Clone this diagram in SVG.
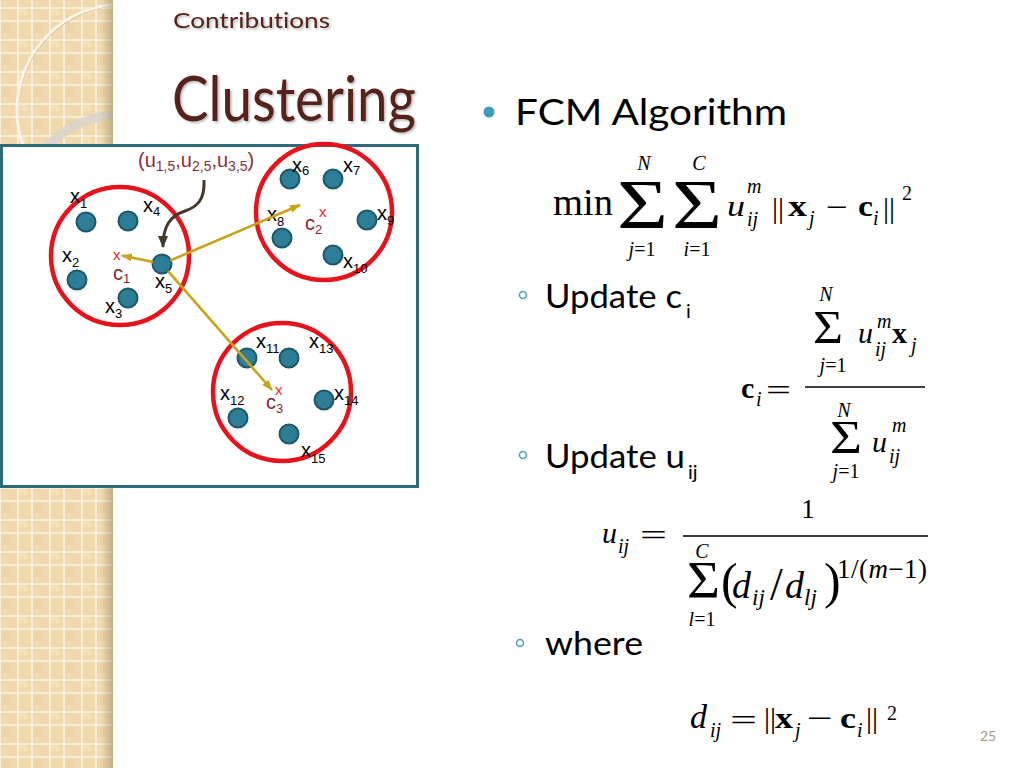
<svg xmlns="http://www.w3.org/2000/svg" width="1024" height="768" viewBox="0 0 1024 768">
<defs>
<pattern id="grid" x="14" y="4" width="32" height="32" patternUnits="userSpaceOnUse">
<rect width="32" height="32" fill="#efd9ad"/>
<rect x="5" y="5" width="8" height="6" fill="#f2dfb8"/>
<rect x="19" y="19" width="10" height="10" fill="#ecd5a6"/>
<path d="M4 0V32M18 0V32M0 4H32M0 17H32" stroke="#fcf4e3" stroke-width="1.6"/>
</pattern>
<linearGradient id="shade" x1="0" y1="0" x2="1" y2="0">
<stop offset="0" stop-color="#8a7450" stop-opacity="0"/>
<stop offset="1" stop-color="#8a7450" stop-opacity="0.45"/>
</linearGradient>
<clipPath id="stripClip"><rect x="0" y="0" width="113" height="768"/></clipPath>
<filter id="tshadow" x="-5%" y="-20%" width="110%" height="140%">
<feDropShadow dx="1.5" dy="1.5" stdDeviation="1" flood-color="#000" flood-opacity="0.3"/>
</filter>
<marker id="gold" markerWidth="11" markerHeight="8" refX="10" refY="4" orient="auto" markerUnits="userSpaceOnUse">
<path d="M0,0 L11,4 L0,8 z" fill="#c9a21a"/>
</marker>
<marker id="dark" markerWidth="12" markerHeight="10" refX="11" refY="5" orient="auto" markerUnits="userSpaceOnUse">
<path d="M0,0 L12,5 L0,10 z" fill="#45392b"/>
</marker>
<style>
.lbl{font-family:"Liberation Sans",Arial,sans-serif;font-size:20px;fill:#000}
.sub{font-size:13px}
.pt{fill:#2e7d96;stroke:#1c586a;stroke-width:2}
.ring{fill:none;stroke:#e5141c;stroke-width:4.5}
.cl{font-family:"Liberation Sans",Arial,sans-serif;font-size:20px;fill:#8b2232}
.xm{font-family:"Liberation Sans",Arial,sans-serif;font-size:15px;fill:#e52a2a}
.goldl{stroke:#c9a21a;stroke-width:2.6;fill:none}
.body{font-family:Lato,"Open Sans",sans-serif;fill:#000;font-variant-ligatures:none}
.m{font-family:"Liberation Serif","Times New Roman",serif;font-size:30px;fill:#000}
.mi{font-family:"Liberation Serif","Times New Roman",serif;font-size:30px;font-style:italic;fill:#000}
.mb{font-family:"Liberation Serif","Times New Roman",serif;font-size:30px;font-weight:bold;fill:#000}
.s{font-family:"Liberation Serif","Times New Roman",serif;font-size:20px;fill:#000}
.si{font-family:"Liberation Serif","Times New Roman",serif;font-size:20px;font-style:italic;fill:#000}
.hb{fill:none;stroke:#4a9fb5;stroke-width:1.5}
</style>
</defs>

<rect width="1024" height="768" fill="#ffffff"/>

<g id="strip">
<rect x="0" y="0" width="113" height="768" fill="url(#grid)"/>
<g clip-path="url(#stripClip)">
<circle cx="124" cy="111" r="106" fill="none" stroke="#c8b28a" stroke-width="1.2"/>
<circle cx="123" cy="110" r="106" fill="none" stroke="#fbf5e8" stroke-width="3"/>
<circle cx="120" cy="215" r="100" fill="none" stroke="#d8d4cc" stroke-width="9" opacity="0.85"/>
</g>
<rect x="101" y="0" width="12" height="768" fill="url(#shade)"/>
</g>

<g id="titles" filter="url(#tshadow)">
<text x="173" y="28" class="body" font-size="21" style="fill:#55241a" textLength="157" lengthAdjust="spacingAndGlyphs">Contributions</text>
<text x="172" y="121" class="body" font-size="62" style="fill:#55241a" textLength="244" lengthAdjust="spacingAndGlyphs">Clustering</text>
</g>

<g id="diagram-box">
<rect x="1.5" y="145.5" width="416" height="341" fill="#ffffff" stroke="#2d6b7c" stroke-width="3"/>
</g>

<g id="cluster1"><circle class="ring" cx="120" cy="256" r="69"/></g>
<g id="cluster2"><circle class="ring" cx="324" cy="212" r="68"/></g>
<g id="cluster3"><circle class="ring" cx="282" cy="392" r="69"/></g>

<g id="x1"><circle class="pt" cx="86" cy="222" r="9.5"/><text class="lbl" x="70" y="203">x<tspan class="sub" dy="5">1</tspan></text></g>
<g id="x4"><circle class="pt" cx="128" cy="221" r="9.5"/><text class="lbl" x="143" y="212">x<tspan class="sub" dy="4">4</tspan></text></g>
<g id="x2"><circle class="pt" cx="77" cy="280" r="9.5"/><text class="lbl" x="62" y="262">x<tspan class="sub" dy="5">2</tspan></text></g>
<g id="x3"><circle class="pt" cx="128" cy="298" r="9.5"/><text class="lbl" x="105" y="313">x<tspan class="sub" dy="5">3</tspan></text></g>
<g id="x5"><circle class="pt" cx="162" cy="264" r="9.5"/><text class="lbl" x="155" y="288">x<tspan class="sub" dy="5">5</tspan></text></g>
<g id="c1"><text class="xm" x="113" y="260">x</text><text class="cl" x="113" y="280">c<tspan class="sub" dy="3">1</tspan></text></g>

<g id="x6"><circle class="pt" cx="290" cy="179" r="9.5"/><text class="lbl" x="292" y="172">x<tspan class="sub" dy="3">6</tspan></text></g>
<g id="x7"><circle class="pt" cx="333" cy="179" r="9.5"/><text class="lbl" x="343" y="172">x<tspan class="sub" dy="3">7</tspan></text></g>
<g id="x8"><circle class="pt" cx="282" cy="238" r="9.5"/><text class="lbl" x="267" y="221">x<tspan class="sub" dy="5">8</tspan></text></g>
<g id="x9"><circle class="pt" cx="367" cy="220" r="9.5"/><text class="lbl" x="377" y="220">x<tspan class="sub" dy="5">9</tspan></text></g>
<g id="x10"><circle class="pt" cx="333" cy="255" r="9.5"/><text class="lbl" x="343" y="268">x<tspan class="sub" dy="5">10</tspan></text></g>
<g id="c2"><text class="xm" x="319" y="217">x</text><text class="cl" x="305" y="230">c<tspan class="sub" dy="4">2</tspan></text></g>

<g id="x11"><circle class="pt" cx="247" cy="358" r="9.5"/><text class="lbl" x="256" y="348">x<tspan class="sub" dy="5">11</tspan></text></g>
<g id="x13"><circle class="pt" cx="289" cy="358" r="9.5"/><text class="lbl" x="309" y="348">x<tspan class="sub" dy="5">13</tspan></text></g>
<g id="x12"><circle class="pt" cx="238" cy="418" r="9.5"/><text class="lbl" x="220" y="400">x<tspan class="sub" dy="5">12</tspan></text></g>
<g id="x14"><circle class="pt" cx="324" cy="400" r="9.5"/><text class="lbl" x="334" y="400">x<tspan class="sub" dy="5">14</tspan></text></g>
<g id="x15"><circle class="pt" cx="289" cy="434" r="9.5"/><text class="lbl" x="301" y="457">x<tspan class="sub" dy="6">15</tspan></text></g>
<g id="c3"><text class="xm" x="275" y="395">x</text><text class="cl" x="266" y="409">c<tspan class="sub" dy="4">3</tspan></text></g>

<g id="memberships">
<text x="138" y="167" font-family="'Liberation Sans',Arial,sans-serif" font-size="20" fill="#8b2e3c">(u<tspan font-size="14" dy="4">1,5</tspan><tspan dy="-4">,u</tspan><tspan font-size="14" dy="4">2,5</tspan><tspan dy="-4">,u</tspan><tspan font-size="14" dy="4">3,5</tspan><tspan dy="-4">)</tspan></text>
</g>

<g id="connectors">
<line class="goldl" x1="153.2" y1="262" x2="122" y2="255.5" marker-end="url(#gold)"/>
<line class="goldl" x1="170.3" y1="260.5" x2="300" y2="205" marker-end="url(#gold)"/>
<line class="goldl" x1="167.9" y1="270.8" x2="272" y2="390" marker-end="url(#gold)"/>
<path d="M204,180 C205,200 197,207 185,211 C170,216 163,226 163,247" fill="none" stroke="#45392b" stroke-width="3" marker-end="url(#dark)"/>
</g>

<g id="bullets">
<circle cx="489" cy="112" r="5.5" fill="#3e9dbb"/>
<text class="body" x="515" y="125" font-size="36" textLength="272" lengthAdjust="spacingAndGlyphs">FCM Algorithm</text>
<circle class="hb" cx="523" cy="295" r="3.5"/>
<text class="body" x="545" y="308" font-size="32" textLength="137" lengthAdjust="spacingAndGlyphs">Update c</text>
<text class="body" x="686" y="318" font-size="20">i</text>
<circle class="hb" cx="523" cy="455" r="3.5"/>
<text class="body" x="545" y="468" font-size="32" textLength="140" lengthAdjust="spacingAndGlyphs">Update u</text>
<text class="body" x="688" y="479" font-size="20">ij</text>
<circle class="hb" cx="520" cy="643" r="3.5"/>
<text class="body" x="545" y="655" font-size="32" textLength="98" lengthAdjust="spacingAndGlyphs">where</text>
</g>

<g id="formula-objective">
<text class="m" x="553" y="215" style="font-size:38px" textLength="60" lengthAdjust="spacingAndGlyphs">min</text>
<text class="m" x="617" y="228" style="font-size:69px" textLength="51" lengthAdjust="spacingAndGlyphs">Σ</text>
<text class="si" x="644" y="170" text-anchor="middle">N</text>
<text class="s" x="642" y="256" text-anchor="middle"><tspan font-style="italic">j</tspan>=1</text>
<text class="m" x="672" y="228" style="font-size:69px" textLength="50" lengthAdjust="spacingAndGlyphs">Σ</text>
<text class="si" x="699" y="170" text-anchor="middle">C</text>
<text class="s" x="697" y="256" text-anchor="middle"><tspan font-style="italic">i</tspan>=1</text>
<text class="mi" x="727" y="216" textLength="18" lengthAdjust="spacingAndGlyphs">u</text>
<text class="si" x="747" y="193">m</text>
<text class="si" x="747" y="226">ij</text>
<text class="m" x="772" y="218">||</text>
<text class="mb" x="788" y="216" textLength="19" lengthAdjust="spacingAndGlyphs">x</text>
<text class="si" x="809" y="225">j</text>
<text class="m" x="826" y="217" textLength="22" lengthAdjust="spacingAndGlyphs">−</text>
<text class="mb" x="858" y="216" textLength="15" lengthAdjust="spacingAndGlyphs">c</text>
<text class="si" x="873" y="225">i</text>
<text class="m" x="883" y="218">||</text>
<text class="s" x="902" y="200">2</text>
</g>

<g id="formula-center">
<text class="mb" x="741" y="398">c</text>
<text class="si" x="756" y="406">i</text>
<text class="m" x="766" y="400" textLength="25" lengthAdjust="spacingAndGlyphs">=</text>
<line x1="805" y1="387" x2="925" y2="387" stroke="#000" stroke-width="1.5"/>
<text class="si" x="826" y="301" text-anchor="middle">N</text>
<text class="m" x="813" y="343" style="font-size:47px" textLength="30" lengthAdjust="spacingAndGlyphs">Σ</text>
<text class="s" x="833" y="372" text-anchor="middle"><tspan font-style="italic">j</tspan>=1</text>
<text class="mi" x="858" y="343">u</text>
<text class="si" x="877" y="328">m</text>
<text class="si" x="875" y="356">ij</text>
<text class="mb" x="892" y="343">x</text>
<text class="si" x="911" y="352">j</text>
<text class="si" x="844" y="417" text-anchor="middle">N</text>
<text class="m" x="830" y="453" style="font-size:47px" textLength="32" lengthAdjust="spacingAndGlyphs">Σ</text>
<text class="s" x="846" y="478" text-anchor="middle"><tspan font-style="italic">j</tspan>=1</text>
<text class="mi" x="872" y="452">u</text>
<text class="si" x="892" y="432">m</text>
<text class="si" x="889" y="463">ij</text>
</g>

<g id="formula-membership">
<text class="mi" x="602" y="543">u</text>
<text class="si" x="618" y="553">ij</text>
<text class="m" x="640" y="545" textLength="27" lengthAdjust="spacingAndGlyphs">=</text>
<line x1="683" y1="536" x2="928" y2="536" stroke="#000" stroke-width="1.5"/>
<text class="m" x="808" y="518" text-anchor="middle" style="font-size:27px">1</text>
<text class="si" x="702" y="558" text-anchor="middle">C</text>
<text class="m" x="687" y="598" style="font-size:53px" textLength="33" lengthAdjust="spacingAndGlyphs">Σ</text>
<text class="s" x="702" y="626" text-anchor="middle"><tspan font-style="italic">l</tspan>=1</text>
<text class="m" x="721" y="598" style="font-size:50px">(</text>
<text class="mi" x="732" y="598" style="font-size:38px">d</text>
<text class="si" x="752" y="605" style="font-size:23px">ij</text>
<text class="m" x="770" y="600" style="font-size:46px">/</text>
<text class="mi" x="785" y="598" style="font-size:38px">d</text>
<text class="si" x="804" y="605" style="font-size:23px">lj</text>
<text class="m" x="824" y="598" style="font-size:50px">)</text>
<text class="s" x="837" y="578" style="font-size:27px" textLength="90" lengthAdjust="spacing">1/(<tspan font-style="italic">m</tspan>−1)</text>
</g>

<g id="formula-distance">
<text class="mi" x="690" y="728" style="font-size:34px">d</text>
<text class="si" x="710" y="737">ij</text>
<text class="m" x="730" y="730" textLength="27" lengthAdjust="spacingAndGlyphs">=</text>
<text class="m" x="764" y="728">||</text>
<text class="mb" x="775" y="728" textLength="18" lengthAdjust="spacingAndGlyphs">x</text>
<text class="si" x="795" y="737">j</text>
<text class="m" x="807" y="728" textLength="26" lengthAdjust="spacingAndGlyphs">−</text>
<text class="mb" x="840" y="728" textLength="16" lengthAdjust="spacingAndGlyphs">c</text>
<text class="si" x="857" y="737">i</text>
<text class="m" x="866" y="728">||</text>
<text class="s" x="887" y="720">2</text>
</g>

<text x="980" y="741" font-family="Lato,'Open Sans',sans-serif" font-size="14" fill="#a89a80">25</text>
</svg>
